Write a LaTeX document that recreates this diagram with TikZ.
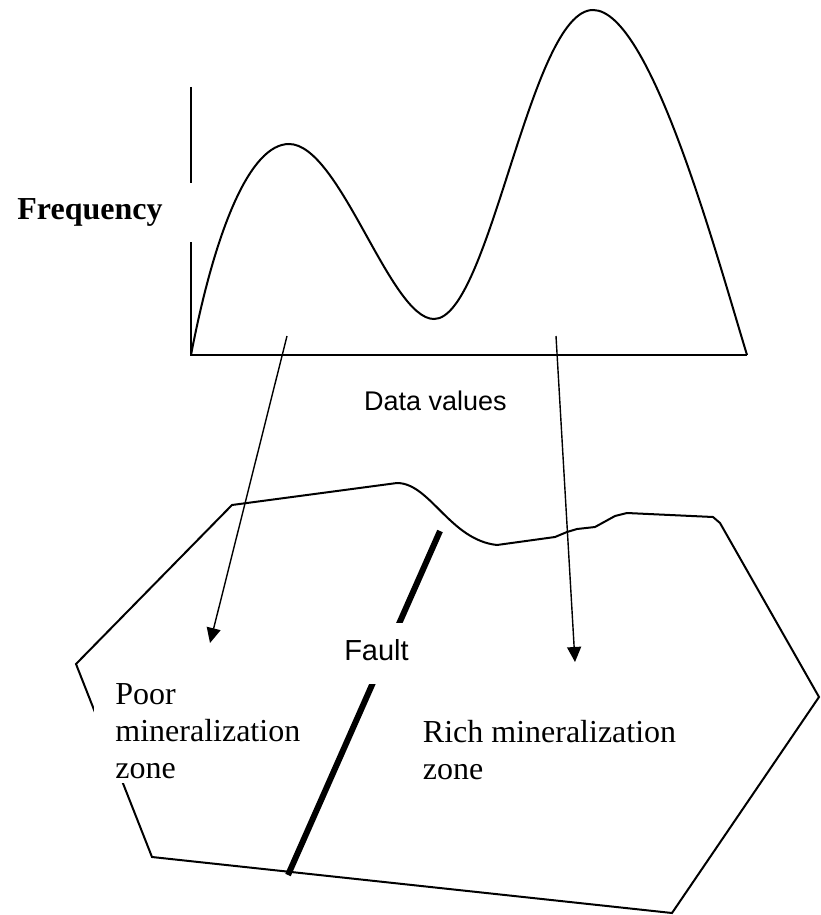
\documentclass[tikz,border=0pt]{standalone}
\usepackage{fontspec}
\setmainfont{Liberation Serif}
\newfontfamily\labelsans{Liberation Sans}
\usetikzlibrary{arrows.meta}
\tikzset{
  zonetext/.style={fill=white,align=left,anchor=base west,inner xsep=10.5pt,inner ysep=2.5pt,
    font=\fontsize{16}{18.5}\selectfont},
  sanslabel/.style={font=\labelsans\fontsize{13.5}{16}\selectfont},
  pointer/.style={line width=0.7pt,-{Triangle[length=7.5pt,width=7pt]}},
}
\begin{document}
\begin{tikzpicture}[x=0.5pt,y=-0.5pt]
\useasboundingbox (0,0) rectangle (820,915);
\draw[line width=1.2pt] (191,87) -- (191,355) -- (747,355);
\draw[line width=1pt] (191,355) .. controls (215,230) and (250,144) .. (289,144)
  .. controls (340,144) and (390,319) .. (434,319)
  .. controls (490,319) and (530,10) .. (593,10)
  .. controls (650,10) and (715,250) .. (747,355);
\draw[line width=1pt] (76,664) -- (232,505) -- (397,483)
  .. controls (430,483) and (450,540) .. (497,545)
  -- (555,537) -- (567,532) -- (577,529) -- (595,527) -- (615,516) -- (627,513)
  -- (713,517) -- (720,523) -- (819,697) -- (672,913) -- (152,857) -- cycle;
\coordinate (faulttop) at (440,531);
\coordinate (faultbot) at (288,875);
\draw[line width=3pt] (faulttop) -- (faultbot);
\coordinate (lowmode) at (287,336);
\coordinate (poorend) at (210,643);
\coordinate (highmode) at (556,336);
\coordinate (richend) at (575,662);
\draw[pointer] (lowmode) -- (poorend);
\draw[pointer] (highmode) -- (richend);
\node[fill=white,anchor=east,inner xsep=15pt,minimum height=29.5pt,
  font=\bfseries\fontsize{16}{18}\selectfont] (freq) at (193,212.5) {Frequency};
\node[sanslabel,anchor=base] (datalabel) at (435.5,410) {Data values};
\node[sanslabel,fill=white,anchor=base,inner xsep=3pt,inner ysep=8pt,
  text height=10.5pt,text depth=4pt,font=\labelsans\fontsize{14.5}{17}\selectfont] (fault) at (376.5,660) {Fault};
\node[zonetext] (poorzone) at (94,778) {Poor\\mineralization\\zone};
\node[zonetext] (richzone) at (401.5,779) {Rich mineralization\\zone};
\end{tikzpicture}
\end{document}
